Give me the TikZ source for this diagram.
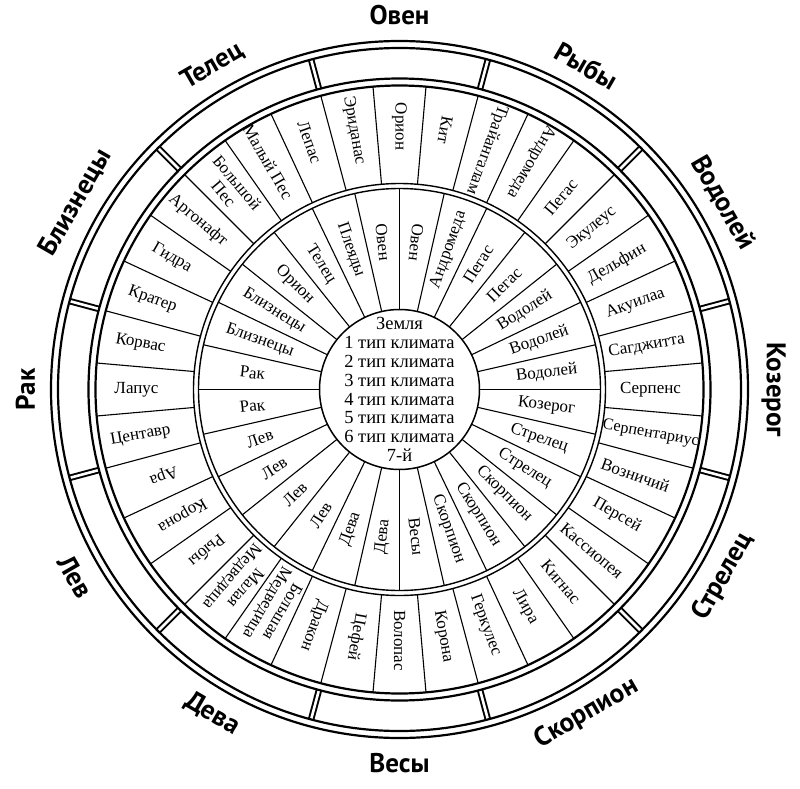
\documentclass[tikz,border=0pt]{standalone}
\usepackage{fontspec}
\setmainfont{Liberation Serif}
\newfontfamily\signfont{PT Sans}
\usepackage{tikz}

\begin{document}
\begin{tikzpicture}[x=1pt,y=1pt,
    ring/.style={font=\fontsize{17}{17.5}\selectfont,inner sep=0pt,align=center},
    sign/.style={font=\signfont\bfseries\fontsize{27}{27}\selectfont,inner sep=0pt}]
  \useasboundingbox[fill=white] (-399.5,-398.5) rectangle (400.5,389.5);

  % separators in the zodiac band
  \foreach \a in {15,45,...,345}
    \draw[line width=6.5pt] (\a:311) -- (\a:341.5);
  \foreach \a in {15,45,...,345}
    \draw[white,line width=2.6pt] (\a:311) -- (\a:341.5);

  % circles
  \foreach \r in {348.5,341.5,311,304}
    \draw[line width=2.2pt] (0,0) circle (\r);
  \foreach \r in {206,201}
    \draw[line width=1.4pt] (0,0) circle (\r);
  \draw[line width=1.5pt] (0,0) circle (80);

  % spokes
  \foreach \a in {5,15,...,355}
    \draw[line width=1.1pt] (\a:206) -- (\a:304);
  \foreach \k [evaluate=\k as \a using 90-12.8571*\k] in {0,...,27}
    \draw[line width=1.1pt] (\a:80) -- (\a:201);

  % centre
  \node[ring,font=\fontsize{18.5}{18.9}\selectfont] (earth) at (0,0)
    {Земля\\1 тип климата\\2 тип климата\\3 тип климата\\4 тип климата\\5 тип климата\\6 тип климата\\7-й};

  % outer ring: constellations
  \foreach \t [count=\k from 0] in {Орион,Кит,Трайангалам,Андромеда,Пегас,Экулеус,Дельфин,Акуилаа,Сагджитта,Серпенс,Серпентариус,Возничий,Персей,Кассиопея,Кигнас,Лира,Геркулес,Корона,Волопас,Цефей,Дракон,{Большая\\Медведица},{Малая\\Медведица},Рыбы,Корона,Ара,Центавр,Лапус,Корвас,Кратер,Гидра,Аргонафт,{Большой\\Пес},Малый Пес,Лепас,Эриданас} {
    \pgfmathsetmacro\a{90-10*\k}
    \pgfmathsetmacro\rot{(\k>3 && \k<26) ? \a : \a+180}
    \pgfmathsetmacro\r{(\k==2 || \k==10) ? 255 : ((\k>3 && \k<26) ? 251 : 263)}
    \node[ring,rotate=\rot] (out\k) at (\a:\r)
      {\ifnum\k=10 \fontsize{16.2}{17}\selectfont\fi\t};
  }

  % inner ring: lunar stations
  \foreach \t [count=\k from 0] in {Овен,Андромеда,Пегас,Пегас,Водолей,Водолей,Водолей,Козерог,Стрелец,Стрелец,Скорпион,Скорпион,Скорпион,Весы,Дева,Дева,Лев,Лев,Лев,Лев,Рак,Рак,Близнецы,Близнецы,Орион,Телец,Плеяды,Овен} {
    \pgfmathsetmacro\a{83.5714-12.8571*\k}
    \pgfmathsetmacro\rot{(\k>0 && \k<14) ? \a : \a+180}
    \node[ring,rotate=\rot] (in\k) at (\a:148) {\t};
  }

  % signs round the outside
  \foreach \t [count=\k from 0] in {Овен,Рыбы,Водолей,Козерог,Стрелец,Скорпион,Весы,Дева,Лев,Рак,Близнецы,Телец} {
    \pgfmathsetmacro\a{90-30*\k}
    \pgfmathsetmacro\rot{\k<4 ? \a-90 : (\k<9 ? \a+90 : \a+270)}
    \node[sign,rotate=\rot] (sign\k) at (\a:374) {\t};
  }
\end{tikzpicture}
\end{document}
